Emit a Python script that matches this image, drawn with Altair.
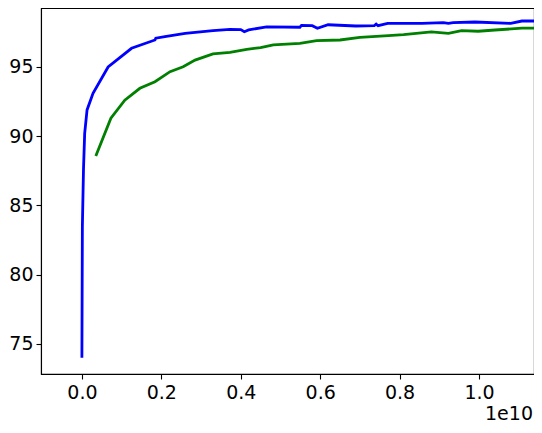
import altair as alt
import pandas as pd

# Blue series (x in raw units, shown on axis scaled by 1e10)
blue_x = [0.000e10, 0.0012e10, 0.004e10, 0.007e10, 0.013e10, 0.028e10, 0.066e10, 0.125e10,
          0.184e10, 0.186e10, 0.209e10, 0.26e10, 0.33e10, 0.373e10, 0.40e10, 0.409e10,
          0.42e10, 0.465e10, 0.549e10, 0.553e10, 0.58e10, 0.593e10, 0.62e10, 0.69e10,
          0.736e10, 0.741e10, 0.746e10, 0.77e10, 0.856e10, 0.91e10, 0.923e10, 0.935e10,
          0.99e10, 1.08e10, 1.108e10, 1.16e10]
blue_y = [74.0, 83.5, 87.6, 90.2, 91.9, 93.1, 95.0, 96.35,
          96.95, 97.08, 97.2, 97.43, 97.62, 97.72, 97.7, 97.55,
          97.68, 97.9, 97.87, 98.0, 97.98, 97.8, 98.05, 97.96,
          97.98, 98.1, 97.98, 98.15, 98.15, 98.2, 98.15, 98.2,
          98.25, 98.15, 98.32, 98.32]

# Green series
green_x = [0.035e10, 0.073e10, 0.108e10, 0.146e10, 0.184e10, 0.222e10, 0.255e10, 0.285e10,
           0.33e10, 0.373e10, 0.415e10, 0.45e10, 0.482e10, 0.549e10, 0.591e10, 0.65e10,
           0.70e10, 0.772e10, 0.81e10, 0.88e10, 0.923e10, 0.956e10, 0.998e10, 1.04e10,
           1.108e10, 1.16e10]
green_y = [88.57, 91.3, 92.6, 93.46, 93.94, 94.66, 95.02, 95.5,
           95.94, 96.06, 96.28, 96.4, 96.59, 96.71, 96.9, 96.95,
           97.14, 97.26, 97.33, 97.53, 97.43, 97.62, 97.58, 97.67,
           97.8, 97.8]

x_ticks = [0.0, 0.2e10, 0.4e10, 0.6e10, 0.8e10, 1.0e10]
y_ticks = [75, 80, 85, 90, 95]
offset_label = ["1e10"]

df = pd.concat([
    pd.DataFrame({"x": blue_x, "y": blue_y, "series": "blue", "order": range(len(blue_x))}),
    pd.DataFrame({"x": green_x, "y": green_y, "series": "green", "order": range(len(green_x))}),
])

W, H = 493, 366
FONT = "DejaVu Sans"
FS = 19

xscale = alt.Scale(domain=[-0.103e10, 1.1385e10], nice=False, zero=False)
yscale = alt.Scale(domain=[72.83, 99.26], nice=False, zero=False)

lines = alt.Chart(df).mark_line(strokeWidth=2.8, clip=True).encode(
    x=alt.X("x:Q", scale=xscale,
            axis=alt.Axis(values=x_ticks, labelExpr="format(datum.value / 1e10, '.1f')",
                          title=None, tickSize=5, labelPadding=4, grid=False,
                          labelFlush=False)),
    y=alt.Y("y:Q", scale=yscale,
            axis=alt.Axis(values=y_ticks, format="d", title=None, tickSize=5,
                          labelPadding=3, grid=False)),
    color=alt.Color("series:N", scale=alt.Scale(domain=["blue", "green"],
                                                range=["#0000ff", "#008000"]), legend=None),
    detail="series:N",
    order="order:Q",
)

offset_text = alt.Chart(pd.DataFrame({"t": offset_label})).mark_text(
    align="right", baseline="alphabetic", font=FONT, fontSize=FS, color="black"
).encode(
    x=alt.value(492),
    y=alt.value(412),
    text="t:N",
)

chart = alt.layer(lines, offset_text).properties(
    width=W, height=H,
    autosize=alt.AutoSizeParams(type="none"),
    padding={"left": 33, "top": 0, "right": 0, "bottom": 51},
    background="white",
).configure_view(
    stroke="black", strokeWidth=1.1
).configure_axis(
    domainColor="black", tickColor="black", labelColor="black",
    labelFont=FONT, labelFontSize=FS, domainWidth=1.1, tickWidth=1.1,
)

chart.save("out.html", embed_options={"renderer": "svg", "actions": False})
